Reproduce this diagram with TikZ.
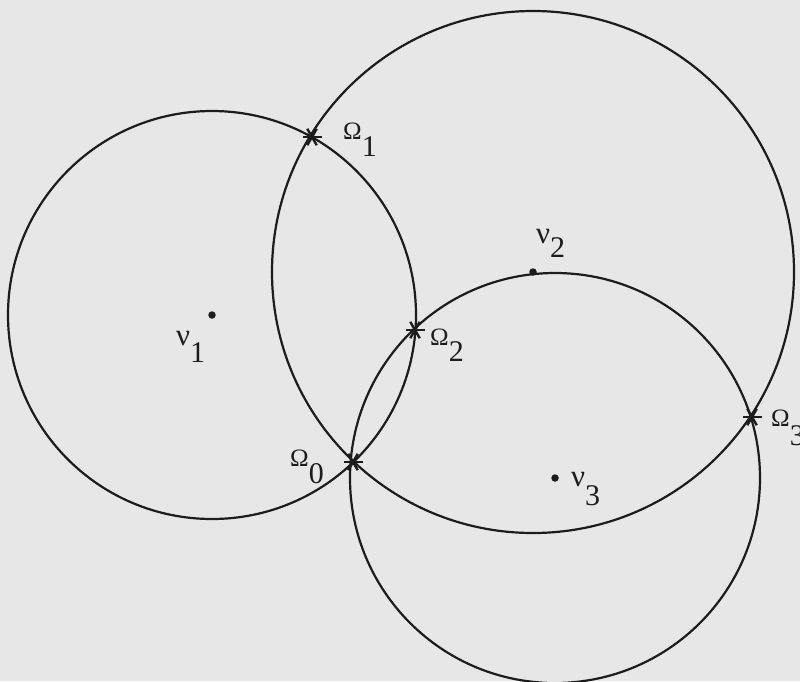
\documentclass[tikz,border=0pt]{standalone}
\usepackage{fontspec}
\usetikzlibrary{calc}
\newfontfamily\labfont{Liberation Serif}
\definecolor{paper}{RGB}{231,231,231}
\definecolor{ink}{RGB}{28,28,28}
\tikzset{
  circ/.style={draw=ink, line width=2.2pt},
  ptdot/.style={circle, fill=ink, inner sep=0pt, minimum size=7.5pt},
  lab/.style={anchor=base west, inner sep=0pt, text=ink},
  starline/.style={draw=ink, line width=2.4pt}
}
\newcommand{\mylab}[3]{{\labfont\fontsize{25}{27}\selectfont #1}\raisebox{-#3pt}{\labfont\fontsize{30}{32}\selectfont #2}}
\newcommand{\mynu}[2]{{\labfont\fontsize{31}{33}\selectfont ν}\raisebox{-#2pt}{\labfont\fontsize{30}{32}\selectfont #1}}
\begin{document}
\begin{tikzpicture}[x=1pt, y=-1pt]
  \fill[paper] (0,0) rectangle (800,681);
  \useasboundingbox (0,0) rectangle (800,681);
  % centres
  \node[ptdot] (v1) at (212,315) {};
  \node[ptdot] (v2) at (533,272) {};
  \node[ptdot] (v3) at (555,478) {};
  % circles
  \draw[circ] (v1) circle[radius=204];
  \draw[circ] (v2) circle[radius=261];
  \draw[circ] (v3) circle[radius=205];
  % intersection points
  \coordinate (o0) at (353,462);
  \coordinate (o1) at (312,137);
  \coordinate (o2) at (415,330);
  \coordinate (o3) at (752,417);
  \foreach \p in {o0,o1,o2,o3}{
    \foreach \a in {0,60,120}{
      \draw[starline] ($(\p)+(\a:9.5)$) -- ($(\p)+(\a+180:9.5)$);
    }
  }
  % labels
  \node[lab] (l1) at (343,139) {\mylab{Ω}{1}{17}};
  \node[lab] (l2) at (430,345) {\mylab{Ω}{2}{16}};
  \node[lab] (l0) at (290,466) {\mylab{Ω}{0}{17}};
  \node[lab] (l3) at (771,426) {\mylab{Ω}{3}{19}};
  \node[lab] (n1) at (176,345) {\mynu{1}{17}};
  \node[lab] (n2) at (536,243) {\mynu{2}{14}};
  \node[lab] (n3) at (571,486) {\mynu{3}{19}};
\end{tikzpicture}
\end{document}
